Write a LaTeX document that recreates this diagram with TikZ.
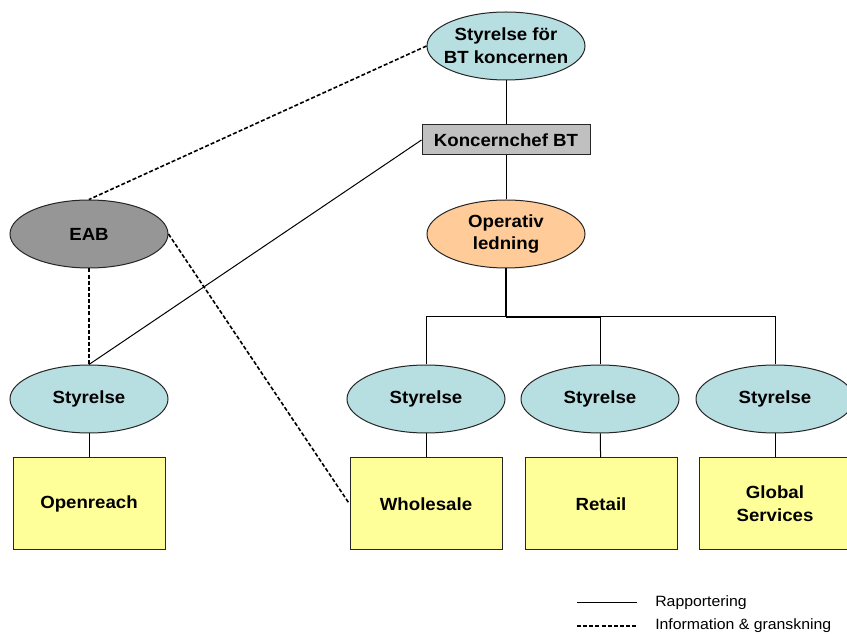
\documentclass[tikz,border=0pt]{standalone}
\usepackage{fontspec}
\setmainfont[FakeStretch=1.06]{Liberation Sans}
\usetikzlibrary{shapes.geometric}
\definecolor{boardblue}{HTML}{B7DEE0}
\definecolor{peach}{HTML}{FFCC99}
\definecolor{chefgray}{HTML}{C0C0C0}
\definecolor{eabgray}{HTML}{969696}
\definecolor{unityellow}{HTML}{FFFF99}
\tikzset{
  base/.style={draw=black!85, line width=0.75pt, align=center, font=\fontsize{13.2}{17.2}\selectfont\bfseries, inner sep=0pt},
  oval/.style={base, ellipse, inner xsep=-10pt, minimum width=118.5pt, minimum height=51pt},
  board/.style={oval, fill=boardblue},
  unit/.style={base, rectangle, fill=unityellow, minimum width=114pt, minimum height=69pt},
  report/.style={line width=0.75pt, black},
  info/.style={line width=1.2pt, black, dash pattern=on 3pt off 1.6pt},
  legtext/.style={anchor=west, inner sep=0pt, font=\fontsize{11.2}{13}\selectfont}
}
\begin{document}
\begin{tikzpicture}[x=0.75pt, y=-0.75pt]
\clip (0,0) rectangle (847,634);
\fill[white] (0,0) rectangle (847,634);
% nodes
\node[board] (top) at (506,46) {Styrelse för\\BT koncernen};
\node[base, rectangle, fill=chefgray, minimum width=126pt, minimum height=22.5pt] (chef) at (506,140) {Koncernchef BT};
\node[oval, fill=peach] (op) at (506,234) {Operativ\\ledning};
\node[oval, fill=eabgray] (eab) at (89,234) {EAB};
\node[board] (s1) at (89,399) {Styrelse};
\node[board] (s2) at (426,399) {Styrelse};
\node[board] (s3) at (600,399) {Styrelse};
\node[board] (s4) at (775,399) {Styrelse};
\node[unit] (u1) at (89,504) {Openreach};
\node[unit] (u2) at (426,504) {Wholesale};
\node[unit] (u3) at (601,504) {Retail};
\node[unit] (u4) at (775,504) {Global\\Services};
% reporting connectors
\coordinate (bus) at (506,317);
\draw[report] (top) -- (chef);
\draw[report] (chef) -- (op);
\draw[report, line width=1.2pt] (op) -- (bus);
\draw[report, line width=1.2pt] (bus) -- (bus -| s3);
\draw[report] (bus) -| (s2.north);
\draw[report] (bus) -| (s3.north);
\draw[report] (bus) -| (s4.north);
\draw[report] (chef.west) -- (s1.north);
\draw[report] (s1) -- (u1);
\draw[report] (s2) -- (u2);
\draw[report] (s3) -- (u3);
\draw[report] (s4) -- (u4);
% information connectors
\draw[info] (top.west) -- (eab.north);
\draw[info] (eab.south) -- (s1.north);
\draw[info] (eab.east) -- (u2.west);
% legend
\coordinate (la1) at (577,603);
\coordinate (lb1) at (637,603);
\coordinate (la2) at (577,626);
\coordinate (lb2) at (637,626);
\draw[report] (la1) -- (lb1);
\draw[info] (la2) -- (lb2);
\node[legtext] (lt1) at (655,603) {Rapportering};
\node[legtext] (lt2) at (655,626) {Information \& granskning};
\end{tikzpicture}
\end{document}
